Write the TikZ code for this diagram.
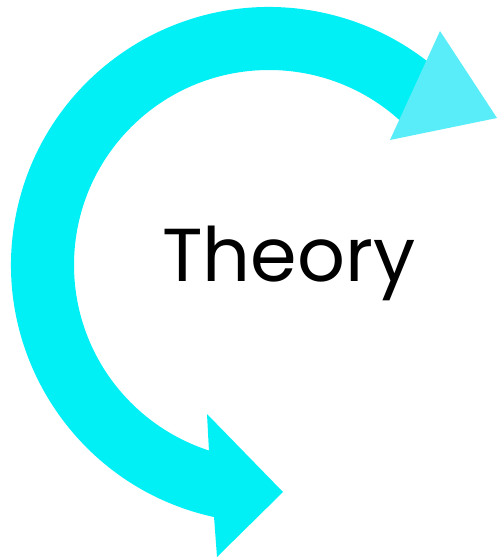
\documentclass[tikz,border=0pt]{standalone}
\usepackage{fontspec}
\setmainfont{Poppins}
\usetikzlibrary{calc}
\definecolor{bandcyan}{RGB}{0,240,246}
\definecolor{headcyan}{RGB}{89,237,249}
\tikzset{
  band/.style={fill=bandcyan, draw=none},
  tiphead/.style={fill=headcyan, draw=none},
  label/.style={font=\fontsize{75}{88}\selectfont, text=black, inner sep=0pt}
}
\begin{document}
\begin{tikzpicture}[x=1pt,y=1pt]
\useasboundingbox (0,0) rectangle (498,560);
\coordinate (c) at (269,295);
% curved band with bottom arrowhead
\path[band] ($(c)+(257.7:258pt)$) arc[start angle=257.7, end angle=46, radius=258pt]
  -- ($(c)+(46:195pt)$) arc[start angle=46, end angle=252.2, radius=195pt]
  -- (209,108) -- (207,146) -- (283,68) -- (217,3) -- cycle;
% top arrowhead
\path[tiphead] (440,529) -- (497,442) -- (390,420) -- cycle;
\node[label, anchor=base] (t) at (289,278) {Theory};
\end{tikzpicture}
\end{document}
